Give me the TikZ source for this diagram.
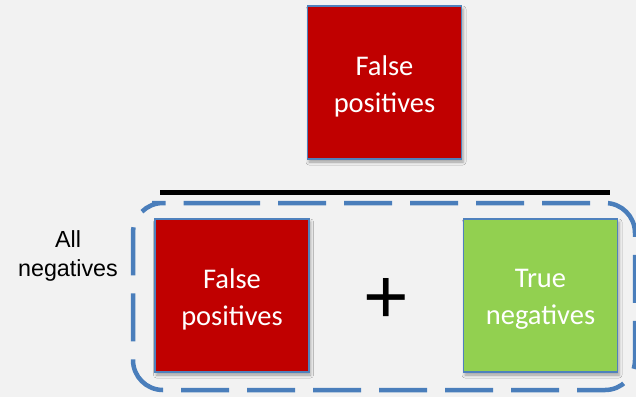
\documentclass[tikz,border=0pt]{standalone}
\usepackage{fontspec}
\setmainfont{Carlito}
\newfontfamily\arialfont{Liberation Sans}
\usetikzlibrary{shadows.blur}
\definecolor{bg}{HTML}{F2F2F2}
\definecolor{fpred}{HTML}{C00000}
\definecolor{tngreen}{HTML}{92D050}
\definecolor{edgeblue}{HTML}{4F81BD}
\definecolor{groupblue}{HTML}{4A7EBB}
\begin{document}
\begin{tikzpicture}[x=1pt,y=-1pt,
  box/.style={draw=edgeblue, line width=1.3pt, minimum width=154pt, minimum height=153pt,
    inner sep=0pt,
    blur shadow={shadow xshift=1.5pt, shadow yshift=-3pt, shadow blur radius=3pt, shadow opacity=35}},
  boxtext/.style={text=white, align=center, inner sep=0pt, yshift=-4pt,
    font=\fontsize{28.5}{36.5}\selectfont},
  grouping/.style={draw=groupblue, line width=4.5pt, rounded corners=30pt, dash pattern=on 48pt off 18pt},
  fracbar/.style={draw=black, line width=4.5pt},
  sidelabel/.style={font=\arialfont\fontsize{23.3}{28.5}\selectfont, align=center, inner sep=0pt},
  operator/.style={font=\arialfont\fontsize{78}{78}\selectfont, inner sep=0pt}
]
\useasboundingbox (0,0) rectangle (636,397);
\fill[bg] (0,0) rectangle (636,397);

% numerator
\node[box, fill=fpred, label={[boxtext]center:{False\\positives}}] (top) at (384.5,82.5) {};

% fraction bar
\coordinate (barL) at (160,192.5);
\coordinate (barR) at (610,192.5);
\draw[fracbar] (barL) -- (barR);

% dashed grouping around the denominator
\draw[grouping] (182,203) -- (635,203) -- (635,390) -- (133,390) -- (133,203) -- cycle;

% denominator terms
\node[box, fill=fpred, label={[boxtext]center:{False\\positives}}] (fp) at (232,295.5) {};
\node[operator] (plus) at (386,301) {+};
\node[box, fill=tngreen, label={[boxtext]center:{True\\negatives}}] (tn) at (540.5,295.5) {};

\node[sidelabel] (allneg) at (68,256) {All\\negatives};
\end{tikzpicture}
\end{document}
